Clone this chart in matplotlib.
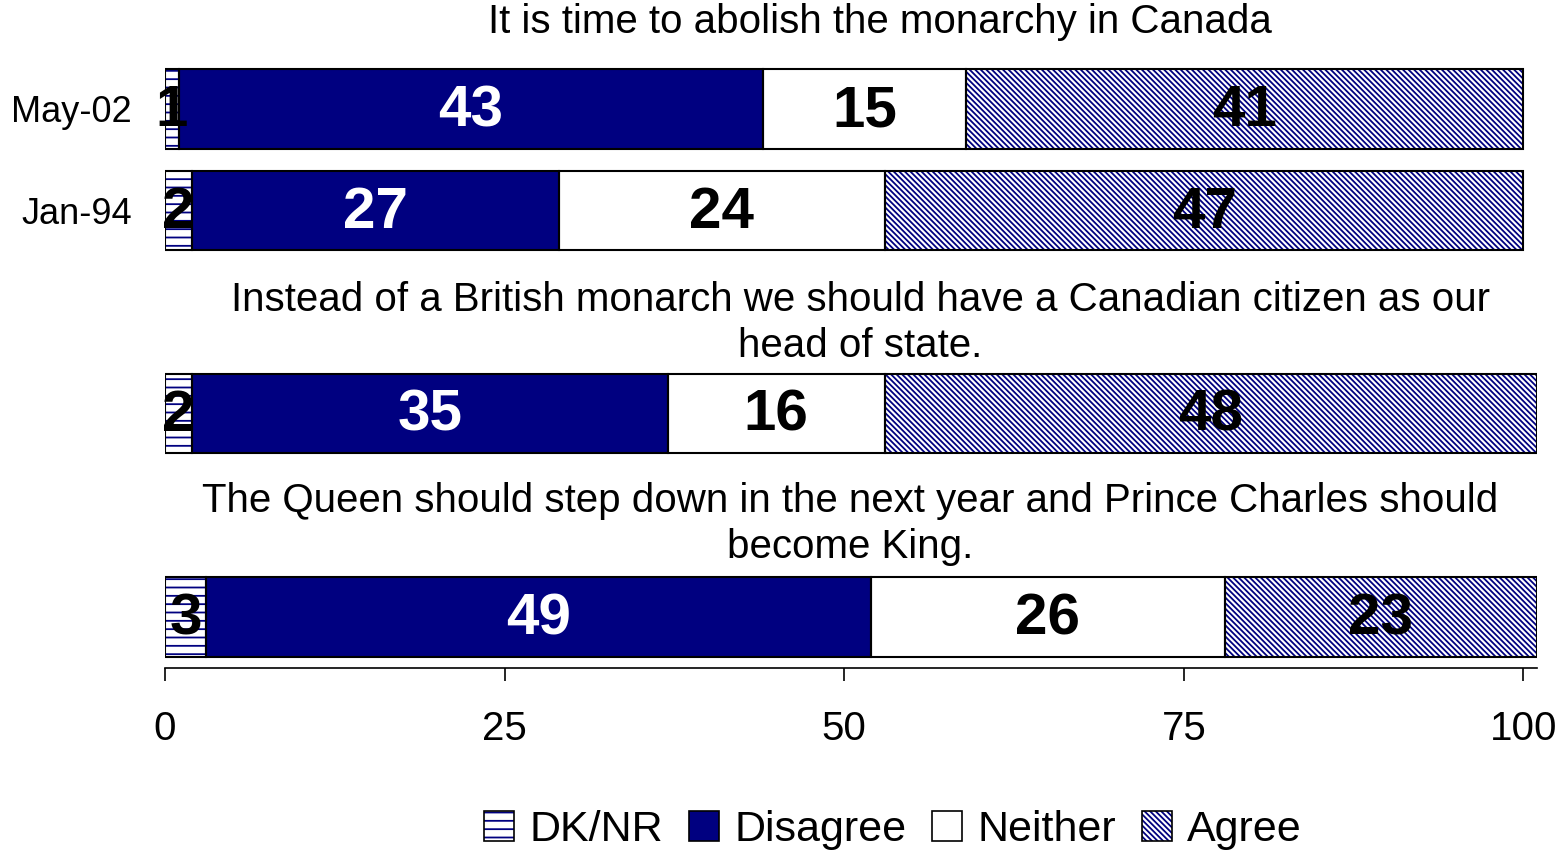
import matplotlib
matplotlib.use('Agg')
import matplotlib.pyplot as plt
from matplotlib.patches import Patch
from matplotlib.legend_handler import HandlerTuple
import numpy as np

plt.rcParams['font.family'] = ['Liberation Sans', 'DejaVu Sans']
plt.rcParams['hatch.linewidth'] = 1.3

# --------- Data ---------
row_labels = ['May-02', 'Jan-94', '', '']
dknr = [1, 2, 2, 3]
disagree = [43, 27, 35, 49]
neither = [15, 24, 16, 26]
agree = [41, 47, 48, 23]
series_names = ['DK/NR', 'Disagree', 'Neither', 'Agree']
titles = ['It is time to abolish the monarchy in Canada',
          'Instead of a British monarch we should have a Canadian citizen as our\nhead of state.',
          'The Queen should step down in the next year and Prince Charles should\nbecome King.']
xticks = [0, 25, 50, 75, 100]

NAVY = '#000080'

# --------- Layout ---------
ypos = np.array([0, 1, 3, 5])
bar_h = 0.78
# face, hatch, label colour per series
styles = [('white', '--', 'black'),
          (NAVY, None, 'white'),
          ('white', None, 'black'),
          ('white', '\\' * 6, 'black')]

fig = plt.figure(figsize=(15.6, 8.55), dpi=100)
ax = fig.add_axes([165 / 1560, 1 - 668 / 855, 1372 / 1560, 608 / 855])

data = [dknr, disagree, neither, agree]
left = np.zeros(len(ypos))
handles = []
for vals, (fc, hatch, tc), name in zip(data, styles, series_names):
    vals = np.array(vals, dtype=float)
    # hatch layer in navy, then black outline on top
    ax.barh(ypos, vals, left=left, height=bar_h, color=fc,
            edgecolor=NAVY, hatch=hatch, linewidth=0, zorder=2)
    ax.barh(ypos, vals, left=left, height=bar_h, fill=False,
            edgecolor='black', linewidth=1.5, zorder=3)
    for y, l, v in zip(ypos, left, vals):
        ax.text(l + v / 2, y + 0.02, f'{v:.0f}', ha='center', va='center',
                color=tc, fontsize=42, fontweight='bold', zorder=4)
    left += vals
    h1 = Patch(facecolor=fc, edgecolor=NAVY, hatch=hatch, linewidth=0)
    h2 = Patch(fill=False, edgecolor='black', linewidth=1.2)
    handles.append((h1, h2))

ax.set_xlim(0, 101)
ax.set_ylim(5 + 51 / 101.6, -49 / 101.6)
ax.set_xticks(xticks)
ax.tick_params(axis='x', labelsize=29, length=9, width=1.2, pad=21)
ax.set_yticks(ypos[:2])
ax.set_yticklabels(row_labels[:2])
ax.tick_params(axis='y', labelsize=26, length=0, pad=24)
for s in ['top', 'right', 'left']:
    ax.spines[s].set_visible(False)
ax.spines['bottom'].set_linewidth(1.2)

# question titles
title_pos = [(880, 22), (860, 323), (850, 524)]
for t, (px, py) in zip(titles, title_pos):
    fig.text(px / 1560, 1 - py / 855, t, ha='center', va='center',
             fontsize=29, linespacing=1.25)

fig.legend(handles, series_names, handler_map={tuple: HandlerTuple(ndivide=1, pad=0)},
           loc='center', bbox_to_anchor=(893 / 1560, 1 - 830 / 855), ncol=4,
           frameon=False, fontsize=31, handlelength=0.7, handleheight=0.7,
           handletextpad=0.35, columnspacing=0.6, borderpad=0)

fig.savefig('out.png', dpi=100)
